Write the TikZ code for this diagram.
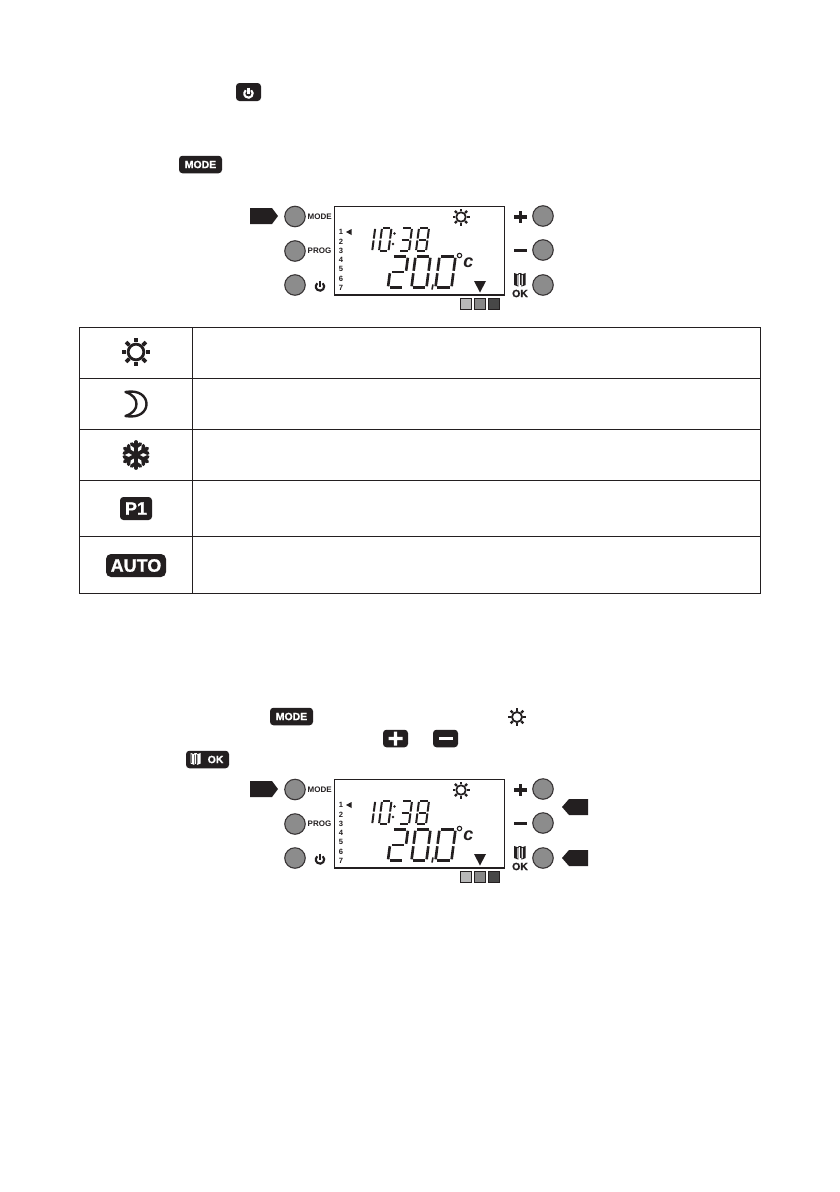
\documentclass[tikz,border=0pt]{standalone}
\usepackage{fontspec}
\setmainfont{Liberation Sans}
\newfontfamily\heavyfont[BoldFeatures={FakeBold=1.0}]{Liberation Sans}
\definecolor{ink}{HTML}{231F20}
\definecolor{btngray}{HTML}{8C8C8C}
\tikzset{
  x=1pt,y=-1pt,
  btn/.style={circle,draw=ink!90,line width=1.1pt,fill=btngray,minimum size=20.5pt,inner sep=0pt},
  lbl/.style={font=\fontsize{8}{8}\selectfont\bfseries,text=ink,inner sep=0pt},
  daynum/.style={font=\fontsize{7.6}{8}\selectfont\bfseries,text=ink,inner sep=0pt},
  keybox/.style={fill=ink,rounded corners=3.4pt,inner sep=0pt,text=white,font=\fontsize{10.5}{11}\selectfont\heavyfont\bfseries},
  swatch/.style={draw=ink,line width=.5pt,minimum size=11pt,inner sep=0pt},
  tag/.style={fill=ink,draw=none},
  cell/.style={draw=ink,line width=.8pt},
}
\newcommand\segA{\draw (0.12,0)--(0.88,0);}
\newcommand\segB{\draw (1,0.04)--(1,0.46);}
\newcommand\segC{\draw (1,0.54)--(1,0.96);}
\newcommand\segD{\draw (0.12,1)--(0.88,1);}
\newcommand\segE{\draw (0,0.54)--(0,0.96);}
\newcommand\segF{\draw (0,0.04)--(0,0.46);}
\newcommand\segG{\draw (0.12,0.5)--(0.88,0.5);}
\newcommand\digit[6]{\begin{scope}[shift={(#1,#2)},xslant=0.13,xscale=#3,yscale=#4,line width=#5pt,draw=ink]
  \foreach \s in {#6}{\csname seg\s\endcsname}\end{scope}}
\newcommand\sunicon[3]{\begin{scope}[shift={(#1,#2)},draw=ink]
  \draw[line width={0.2*#3}] (0,0) circle[radius={0.56*#3 pt}];
  \foreach \a in {0,45,...,315}{\draw[line width={0.27*#3}] (\a:0.68*#3 pt) -- (\a:#3 pt);}
  \end{scope}}
\newcommand\powericon[4]{\begin{scope}[shift={(#1,#2)},draw=#4,line width={0.5*#3}]
  \draw (0.64*#3,-0.77*#3) arc[start angle=50,end angle=-230,radius={#3 pt}];
  \draw (0,-1.4*#3) -- (0,0);
  \end{scope}}
\newcommand\bookicon[4]{\begin{scope}[shift={(#1,#2)},scale=#3,draw=#4,line width=.75pt]
  \draw (0,0)--(4,1.5)--(4,14)--(0,12.5)--cycle;
  \draw (12,0)--(8,1.5)--(8,14)--(12,12.5)--cycle;
  \draw (4,1.5)--(4.8,0)--(7.2,0)--(8,1.5);
  \draw (6,0)--(6,13);
  \draw (1.3,0.5)--(1.3,13) (2.6,1)--(2.6,13.5) (9.4,1)--(9.4,13.5) (10.7,0.5)--(10.7,13);
  \end{scope}}
\newcommand\tagright[2]{\fill[tag,shift={(#1,#2)}] (0,-8)--(22,-8)--(28,0)--(22,8)--(0,8)--cycle;}
\newcommand\tagleft[2]{\fill[tag,shift={(#1,#2)}] (26,-8)--(7,-8)--(0,0)--(7,8)--(26,8)--cycle;}
\newcommand\panel[2]{\begin{scope}[shift={(0,#1)},name prefix=#2]
  \node[btn] (mode) at (295,216.5) {};
  \node[btn] (prog) at (295,251) {};
  \node[btn] (pwr) at (295,285) {};
  \node[btn] (plus) at (543,216) {};
  \node[btn] (minus) at (543,250) {};
  \node[btn] (ok) at (543,285) {};
  \node[lbl,anchor=west] (modetxt) at (307.5,216.5) {MODE};
  \node[lbl,anchor=west] (progtxt) at (307.5,251) {PROG};
  \powericon{320}{286.5}{4.2}{ink}
  \fill[ink] (514,215) rectangle (527,218.8);
  \fill[ink] (518.6,210.5) rectangle (522.4,223.3);
  \fill[ink] (514,248.6) rectangle (527,252.2);
  \bookicon{514.5}{273.5}{.9}{ink}
  \node[font=\fontsize{10.5}{11}\selectfont\heavyfont\bfseries,text=ink,inner sep=0pt] (oktxt) at (520,293.5) {OK};
  \draw[ink,line width=1pt] (334.5,206) rectangle (504,295);
  \draw[ink,line width=2.2pt] (334,295) -- (504.5,295);
  \sunicon{461}{217}{8.5}
  \foreach \n/\y in {1/232,2/241.5,3/251,4/260,5/269,6/278.5,7/287.5}{
    \node[daynum] (day\n) at (341,\y) {\n};}
  \fill[ink] (346,232)--(351.5,229)--(351.5,235)--cycle;
  \digit{372}{228}{3.2}{23}{2}{B,C}
  \digit{382}{228}{9.5}{23}{2}{A,B,C,D,E,F}
  \fill[ink] (394.5,233.5) circle[radius=1.3pt] (393,244) circle[radius=1.3pt];
  \digit{402}{228}{10}{23}{2}{A,B,G,C,D}
  \digit{419}{228}{10}{23}{2}{A,B,C,D,E,F,G}
  \digit{392}{256.5}{16}{31}{2.6}{A,B,G,E,D}
  \digit{415.5}{256.5}{15}{31}{2.6}{A,B,C,D,E,F}
  \digit{439.5}{256.5}{16}{31}{2.6}{A,B,C,D,E,F}
  \draw[ink,line width=1.6pt] (433,284.5)--(432,289.5);
  \draw[ink,line width=1.1pt] (459.5,255.5) circle[radius=2.2pt];
  \node[font=\fontsize{18}{18}\selectfont\bfseries\itshape,text=ink,inner sep=0pt] (unit) at (468.5,263) {c};
  \fill[ink] (474,281)--(486,281)--(480,292.5)--cycle;
  \node[swatch,fill=black!28] (sw1) at (466,303.5) {};
  \node[swatch,fill=black!47] (sw2) at (480,303.5) {};
  \node[swatch,fill=black!72] (sw3) at (494,303.5) {};
  \tagright{250}{216}
  \end{scope}}
\begin{document}
\begin{tikzpicture}
\useasboundingbox (0,0) rectangle (840,1192);
\fill[white] (0,0) rectangle (840,1192);
% header keys
\node[keybox,minimum width=25pt,minimum height=18pt] (keypower) at (248.5,92) {};
\powericon{248.5}{93.5}{4.2}{white}
\node[keybox,minimum width=43pt,minimum height=17.5pt] (keymode1) at (200.5,164.5) {MODE};
% panels
\panel{0}{a-}
\panel{573}{b-}
\tagleft{562}{807}
\tagleft{562}{858}
% table
\draw[cell] (79.5,327) rectangle (760,593);
\draw[cell] (192,327) -- (192,593);
\foreach \y in {378,429,480,536}{\draw[cell] (79.5,\y) -- (760,\y);}
\sunicon{136}{352}{14}
\draw[ink,line width=2.4pt,fill=white,line join=round] (125.5,392) .. controls (140,389.5) and (146.5,397) .. (146.5,404) .. controls (146.5,411) and (140,418.5) .. (125.5,416) .. controls (133,413.5) and (136.5,409) .. (136.5,404) .. controls (136.5,399) and (133,394.5) .. (125.5,392) -- cycle;
\begin{scope}[shift={(136,455)},draw=ink,line cap=round]
  \fill[ink] (0,0) circle[radius=4pt];
  \foreach \a in {30,90,...,330}{
    \draw[line width=3.8pt] (\a:2pt) -- (\a:13pt);
    \draw[line width=3.4pt] (\a:8pt) -- ++(\a+55:5.5pt);
    \draw[line width=3.4pt] (\a:8pt) -- ++(\a-55:5.5pt);
  }
\end{scope}
\node[keybox,minimum width=32pt,minimum height=23pt,font=\fontsize{18}{18}\selectfont\heavyfont\bfseries] (keyp1) at (136,508.5) {P1};
\node[keybox,minimum width=60pt,minimum height=23pt,rounded corners=5pt,font=\fontsize{18}{18}\selectfont\heavyfont\bfseries] (keyauto) at (136,565.5) {AUTO};
% lower instruction keys
\node[keybox,minimum width=43pt,minimum height=17.5pt] (keymode2) at (291.5,716.5) {MODE};
\sunicon{517}{717}{9}
\node[keybox,minimum width=25pt,minimum height=17.5pt] (keyplus) at (395.5,738.5) {};
\fill[white] (388.5,736.8)--(402.5,736.8)--(402.5,740.2)--(388.5,740.2)--cycle (393.8,731.5)--(397.2,731.5)--(397.2,745.5)--(393.8,745.5)--cycle;
\node[keybox,minimum width=25pt,minimum height=17.5pt] (keyminus) at (445.5,738.5) {};
\fill[white] (438.5,736.8)--(452.5,736.8)--(452.5,740.2)--(438.5,740.2)--cycle;
\node[keybox,minimum width=43pt,minimum height=17.5pt] (keyok) at (207.5,759.5) {};
\node[inner sep=0pt,text=white,font=\fontsize{10.5}{11}\selectfont\heavyfont\bfseries,anchor=west] (oklabel) at (207.5,759.5) {OK};
\bookicon{191}{753.5}{.78}{white}
\end{tikzpicture}
\end{document}
